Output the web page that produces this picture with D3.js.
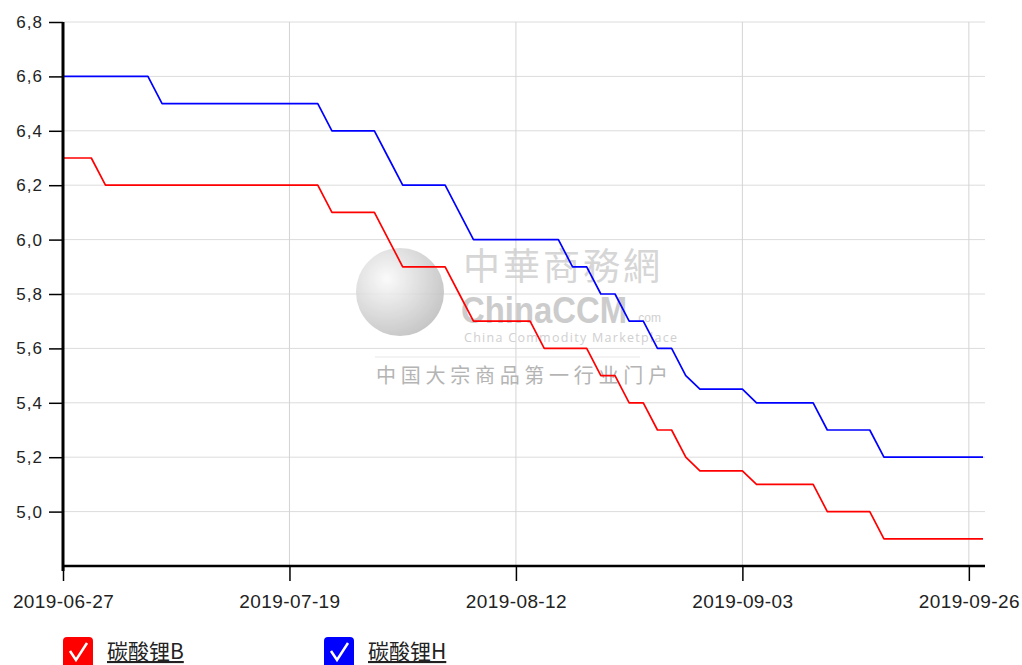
<!DOCTYPE html>
<html lang="zh">
<head>
    <meta charset="UTF-8">
    <title>碳酸锂价格走势</title>
    <style>
        html, body {
            margin: 0;
            padding: 0;
            background: #fff;
            overflow: hidden;
        }
        svg {
            display: block;
        }
        .tick text {
            font-family: "Liberation Sans", Arial, sans-serif;
            fill: #222;
        }
        .legend-label {
            font-family: "Noto Sans CJK SC", sans-serif;
            font-size: 21px;
            fill: #222;
            text-decoration: underline;
        }
    </style>
    <script src="https://d3js.org/d3.v7.min.js"></script>
</head>
<body>
    <svg width="1022" height="665"></svg>
    <script>
        // trading days (weekdays, 2019-09-13 holiday skipped)
        var dates = [
            "2019-06-27", "2019-06-28",
            "2019-07-01", "2019-07-02", "2019-07-03", "2019-07-04", "2019-07-05",
            "2019-07-08", "2019-07-09", "2019-07-10", "2019-07-11", "2019-07-12",
            "2019-07-15", "2019-07-16", "2019-07-17", "2019-07-18", "2019-07-19",
            "2019-07-22", "2019-07-23", "2019-07-24", "2019-07-25", "2019-07-26",
            "2019-07-29", "2019-07-30", "2019-07-31", "2019-08-01", "2019-08-02",
            "2019-08-05", "2019-08-06", "2019-08-07", "2019-08-08", "2019-08-09",
            "2019-08-12", "2019-08-13", "2019-08-14", "2019-08-15", "2019-08-16",
            "2019-08-19", "2019-08-20", "2019-08-21", "2019-08-22", "2019-08-23",
            "2019-08-26", "2019-08-27", "2019-08-28", "2019-08-29", "2019-08-30",
            "2019-09-02", "2019-09-03", "2019-09-04", "2019-09-05", "2019-09-06",
            "2019-09-09", "2019-09-10", "2019-09-11", "2019-09-12",
            "2019-09-16", "2019-09-17", "2019-09-18", "2019-09-19", "2019-09-20",
            "2019-09-23", "2019-09-24", "2019-09-25", "2019-09-26", "2019-09-27"
        ];

        // 碳酸锂B (red)
        var lithiumB = [
            6.3, 6.3,
            6.3, 6.2, 6.2, 6.2, 6.2,
            6.2, 6.2, 6.2, 6.2, 6.2,
            6.2, 6.2, 6.2, 6.2, 6.2,
            6.2, 6.2, 6.1, 6.1, 6.1,
            6.1, 6.0, 5.9, 5.9, 5.9,
            5.9, 5.8, 5.7, 5.7, 5.7,
            5.7, 5.7, 5.6, 5.6, 5.6,
            5.6, 5.5, 5.5, 5.4, 5.4,
            5.3, 5.3, 5.2, 5.15, 5.15,
            5.15, 5.15, 5.1, 5.1, 5.1,
            5.1, 5.1, 5.0, 5.0,
            5.0, 5.0, 4.9, 4.9, 4.9,
            4.9, 4.9, 4.9, 4.9, 4.9
        ];

        // 碳酸锂H (blue)
        var lithiumH = [
            6.6, 6.6,
            6.6, 6.6, 6.6, 6.6, 6.6,
            6.5, 6.5, 6.5, 6.5, 6.5,
            6.5, 6.5, 6.5, 6.5, 6.5,
            6.5, 6.5, 6.4, 6.4, 6.4,
            6.4, 6.3, 6.2, 6.2, 6.2,
            6.2, 6.1, 6.0, 6.0, 6.0,
            6.0, 6.0, 6.0, 6.0, 5.9,
            5.9, 5.8, 5.8, 5.7, 5.7,
            5.6, 5.6, 5.5, 5.45, 5.45,
            5.45, 5.45, 5.4, 5.4, 5.4,
            5.4, 5.4, 5.3, 5.3,
            5.3, 5.3, 5.2, 5.2, 5.2,
            5.2, 5.2, 5.2, 5.2, 5.2
        ];

        var xTickDates = ["2019-06-27", "2019-07-19", "2019-08-12", "2019-09-03", "2019-09-26"];
        var yTicks = [5.0, 5.2, 5.4, 5.6, 5.8, 6.0, 6.2, 6.4, 6.6, 6.8];

        var series = [
            { name: "碳酸锂B", color: "#ff0000", values: lithiumB },
            { name: "碳酸锂H", color: "#0000ff", values: lithiumH }
        ];

        var svg = d3.select("svg");
        var plot = { left: 63, right: 985, top: 22, bottom: 566 };

        var x = d3.scalePoint().domain(dates).range([plot.left, 983]);
        var y = d3.scaleLinear().domain([4.8, 6.8]).range([plot.bottom, plot.top]);

        // grid
        var grid = svg.append("g").attr("class", "grid");
        grid.selectAll("line.h")
            .data(yTicks)
            .enter().append("line")
            .attr("class", "h")
            .attr("x1", plot.left).attr("x2", plot.right)
            .attr("y1", d => y(d)).attr("y2", d => y(d))
            .attr("stroke", "#dcdcdc").attr("stroke-width", 1);
        grid.selectAll("line.v")
            .data(xTickDates.slice(1))
            .enter().append("line")
            .attr("class", "v")
            .attr("x1", d => x(d)).attr("x2", d => x(d))
            .attr("y1", plot.top).attr("y2", plot.bottom)
            .attr("stroke", "#d4d4d4").attr("stroke-width", 1);

        // watermark
        var defs = svg.append("defs");
        var grad = defs.append("radialGradient").attr("id", "globe")
            .attr("cx", "35%").attr("cy", "35%").attr("r", "70%");
        grad.append("stop").attr("offset", "0%").attr("stop-color", "#fafafa");
        grad.append("stop").attr("offset", "60%").attr("stop-color", "#d6d6d6");
        grad.append("stop").attr("offset", "100%").attr("stop-color", "#bdbdbd");

        var wm = svg.append("g").attr("class", "watermark").attr("opacity", 0.85);
        wm.append("circle").attr("cx", 400).attr("cy", 292).attr("r", 44)
            .attr("fill", "url(#globe)");
        wm.append("line").attr("x1", 375).attr("x2", 640).attr("y1", 357).attr("y2", 357)
            .attr("stroke", "#e4e4e4").attr("stroke-width", 1);
        wm.append("text").attr("x", 463).attr("y", 280)
            .attr("font-family", "Noto Sans CJK TC, sans-serif")
            .attr("font-size", 37).attr("fill", "#cfcfcf")
            .attr("letter-spacing", 3)
            .text("中華商務網");
        wm.append("text").attr("x", 461).attr("y", 323)
            .attr("font-family", "Liberation Sans, sans-serif")
            .attr("font-weight", "bold")
            .attr("font-size", 37).attr("fill", "#c4c4c4")
            .attr("textLength", 166)
            .attr("lengthAdjust", "spacingAndGlyphs")
            .text("ChinaCCM");
        wm.append("text").attr("x", 635).attr("y", 322)
            .attr("font-family", "Liberation Sans, sans-serif")
            .attr("font-size", 12).attr("fill", "#c8c8c8")
            .text(".com");
        wm.append("text").attr("x", 464).attr("y", 342)
            .attr("font-family", "Open Sans, sans-serif")
            .attr("font-size", 12.5).attr("fill", "#c8c8c8")
            .attr("textLength", 213)
            .text("China Commodity Marketplace");
        wm.append("text").attr("x", 376).attr("y", 383)
            .attr("font-family", "Noto Sans CJK SC, sans-serif")
            .attr("font-size", 20).attr("fill", "#a8a8a8")
            .attr("textLength", 292)
            .text("中国大宗商品第一行业门户");

        // lines
        var line = d3.line()
            .x((d, i) => x(dates[i]))
            .y(d => y(d));

        svg.append("g").attr("class", "series")
            .selectAll("path")
            .data(series)
            .enter().append("path")
            .attr("d", d => line(d.values))
            .attr("fill", "none")
            .attr("stroke", d => d.color)
            .attr("stroke-width", 1.7)
            .attr("stroke-linejoin", "round");

        // axes
        var xAxis = d3.axisBottom(x)
            .tickValues(xTickDates)
            .tickSize(15)
            .tickSizeOuter(0)
            .tickPadding(14);
        var gx = svg.append("g")
            .attr("transform", "translate(0," + plot.bottom + ")")
            .call(xAxis);
        gx.select(".domain").remove();
        gx.append("line")
            .attr("x1", plot.left).attr("x2", plot.right)
            .attr("y1", 0).attr("y2", 0)
            .attr("stroke", "#000").attr("stroke-width", 2.5);
        gx.selectAll(".tick line").attr("stroke", "#000").attr("stroke-width", 1.5);
        gx.selectAll(".tick text").attr("font-size", 19).attr("letter-spacing", 0.4);

        var yAxis = d3.axisLeft(y)
            .tickValues(yTicks)
            .tickSize(14)
            .tickSizeOuter(0)
            .tickPadding(6)
            .tickFormat(d => d3.format(".1f")(d).replace(".", ","));
        var gy = svg.append("g")
            .attr("transform", "translate(" + plot.left + ",0)")
            .call(yAxis);
        gy.select(".domain").remove();
        gy.append("line")
            .attr("x1", 0).attr("x2", 0)
            .attr("y1", plot.top).attr("y2", plot.bottom + 5)
            .attr("stroke", "#000").attr("stroke-width", 3);
        gy.selectAll(".tick line").attr("stroke", "#000").attr("stroke-width", 1.5);
        gy.selectAll(".tick text").attr("font-size", 17).attr("letter-spacing", 1);

        // legend
        var legend = svg.append("g").attr("class", "legend")
            .selectAll("g")
            .data(series)
            .enter().append("g")
            .attr("transform", (d, i) => "translate(" + (63 + i * 261) + ",637)");
        legend.append("rect")
            .attr("width", 30).attr("height", 32)
            .attr("rx", 4).attr("ry", 4)
            .attr("fill", d => d.color);
        legend.append("path")
            .attr("d", "M7,14 L13,23 L24,6")
            .attr("fill", "none")
            .attr("stroke", "#fff")
            .attr("stroke-width", 2.5);
        legend.append("text")
            .attr("class", "legend-label")
            .attr("x", 44).attr("y", 22)
            .text(d => d.name);
    </script>
</body>
</html>
